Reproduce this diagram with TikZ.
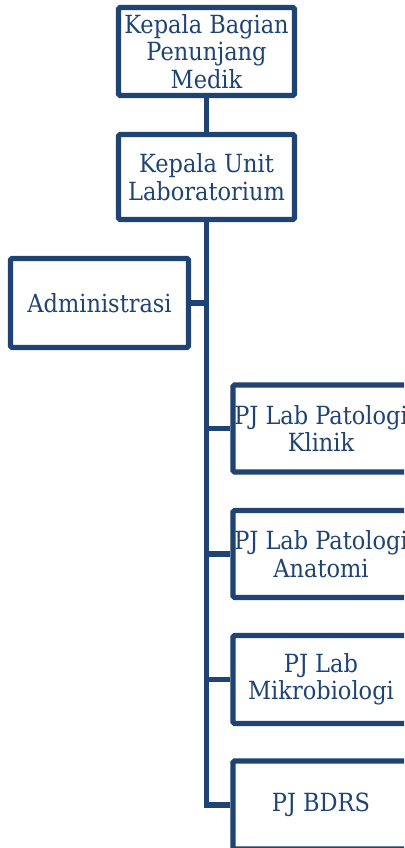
\documentclass[tikz,border=0pt]{standalone}
\usepackage{fontspec}
\setmainfont{DejaVu Serif Condensed}
\definecolor{navy}{HTML}{1F4474}
\tikzset{
  orgbox/.style={draw=navy, line width=5.2pt, rounded corners=1.5pt, fill=white,
    text=navy, align=center, inner sep=0pt,
    font=\fontsize{25}{27.5}\selectfont},
  link/.style={draw=navy, line width=5.2pt}
}
\begin{document}
\begin{tikzpicture}[x=1pt,y=-1pt]
\useasboundingbox (0,0) rectangle (404,848);
\clip (0,0) rectangle (404,848);
\node[orgbox, minimum width=176pt, minimum height=88pt] (kb) at (206.5,51.5) {Kepala Bagian\\Penunjang\\Medik};
\node[orgbox, minimum width=176pt, minimum height=85pt] (ku) at (206.5,177) {Kepala Unit\\Laboratorium};
\node[orgbox, minimum width=178pt, minimum height=89pt] (adm) at (99.5,303) {Administrasi};
\node[orgbox, minimum width=176pt, minimum height=87pt] (pk) at (321,428.5) {PJ Lab Patologi\\Klinik};
\node[orgbox, minimum width=176pt, minimum height=87pt] (pa) at (321,554) {PJ Lab Patologi\\Anatomi};
\node[orgbox, minimum width=176pt, minimum height=88pt] (mb) at (321,679.5) {PJ Lab\\Mikrobiologi};
\node[orgbox, minimum width=176pt, minimum height=88pt] (bd) at (321,805) {PJ BDRS};
\coordinate (spine) at (206.5,0);
\draw[link] (kb.south) -- (ku.north);
\draw[link] (ku.south) |- (bd.west);
\draw[link] (adm.east) -- (adm.east -| spine);
\draw[link] (pk.west) -- (pk.west -| spine);
\draw[link] (pa.west) -- (pa.west -| spine);
\draw[link] (mb.west) -- (mb.west -| spine);
\end{tikzpicture}
\end{document}
